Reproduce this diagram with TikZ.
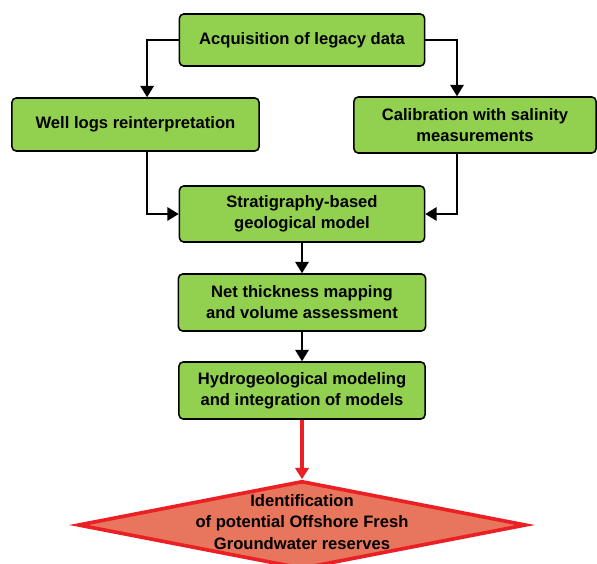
\documentclass[tikz,border=0pt]{standalone}
\usepackage{fontspec}
\setmainfont{Liberation Sans}
\usetikzlibrary{shapes.geometric,arrows.meta}
\definecolor{boxgreen}{RGB}{146,208,80}
\definecolor{diamfill}{RGB}{232,118,92}
\definecolor{diamred}{RGB}{234,32,36}

\begin{document}
\begin{tikzpicture}[x=0.025cm, y=-0.025cm,
  stage/.style={draw, line width=1.1pt, fill=boxgreen, rounded corners=3pt,
    align=center, inner sep=0pt, font=\bfseries\fontsize{11.8}{15}\selectfont},
  flow/.style={-{Triangle[length=8pt,width=9.5pt]}, line width=1.1pt}]
\clip (0,0) rectangle (597,564);
% boxes
\node[stage, minimum width=6.125cm, minimum height=1.3cm] (acq) at (302,40) {Acquisition of legacy data};
\node[stage, minimum width=6.175cm, minimum height=1.325cm] (well) at (135.5,124.5) {Well logs reinterpretation};
\node[stage, minimum width=6.05cm, minimum height=1.4cm] (calib) at (475,125) {Calibration with salinity\\measurements};
\node[stage, minimum width=6.125cm, minimum height=1.4cm] (strat) at (302,214) {Stratigraphy-based\\geological model};
\node[stage, minimum width=6.175cm, minimum height=1.425cm] (net) at (302,302.5) {Net thickness mapping\\and volume assessment};
\node[stage, minimum width=6.15cm, minimum height=1.425cm] (hydro) at (302,390.5) {Hydrogeological modeling\\and integration of models};
% target diamond
\node[diamond, aspect=5, draw=diamred, line width=2.6pt, fill=diamfill, inner sep=0pt,
  minimum width=11.2cm, minimum height=2.2cm] (ofg) at (302,525) {};
\node[align=center, inner sep=0pt, font=\bfseries\fontsize{11.8}{15}\selectfont] (ofgtext) at (302,522)
  {Identification\\of potential Offshore Fresh\\Groundwater reserves};
% arrows
\draw[flow] (acq.west) -| ([xshift=0.29cm]well.north);
\draw[flow] (acq.east) -| ([xshift=-0.45cm]calib.north);
\draw[flow] ([xshift=0.29cm]well.south) |- (strat.west);
\draw[flow] ([xshift=-0.45cm]calib.south) |- (strat.east);
\draw[flow] (strat.south) -- (net.north);
\draw[flow] (net.south) -- (hydro.north);
\draw[flow, diamred, line width=2.2pt] (hydro.south) -- (ofg.north);
\end{tikzpicture}
\end{document}
